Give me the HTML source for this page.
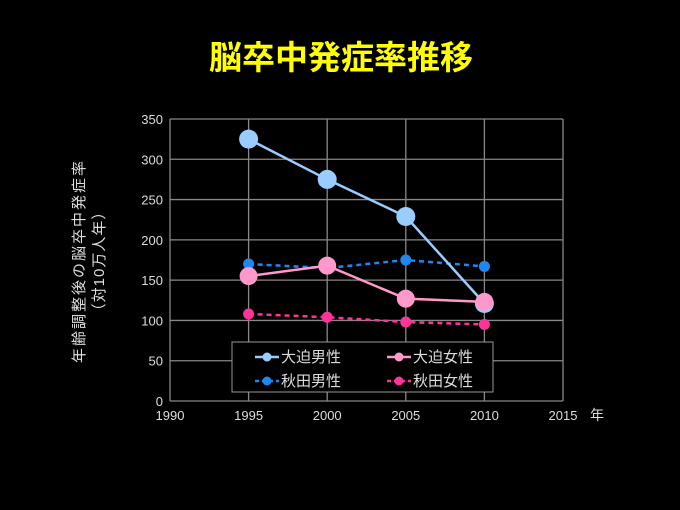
<!DOCTYPE html>
<html><head><meta charset="utf-8"><style>
body{margin:0;background:#000;width:680px;height:510px;overflow:hidden;font-family:"Liberation Sans","Noto Sans CJK JP",sans-serif}
</style></head><body>
<svg width="680" height="510" style="position:absolute;left:0;top:0">
<text x="341" y="69" text-anchor="middle" fill="#ffff00" font-size="33" font-weight="bold" font-family="Liberation Sans, Noto Sans CJK JP, sans-serif">脳卒中発症率推移</text>
<g id="grid"></g><g id="series"></g>
<text transform="translate(84,261) rotate(-90)" text-anchor="middle" fill="#ddd" font-size="15" letter-spacing="2">年齢調整後の脳卒中発症率</text>
<text transform="translate(104,261) rotate(-90)" text-anchor="middle" fill="#ddd" font-size="15" letter-spacing="1">（対10万人年）</text>
<text x="590" y="420" fill="#ddd" font-size="14">年</text>
<g>
<rect x="232" y="342" width="261" height="50" fill="#000" stroke="#999" stroke-width="1"/>
<g id="legend"></g>
</g>
</svg>
<script>
const years=[1995,2000,2005,2010];
const oosakoMale=[325,275,229,121];
const oosakoFemale=[155,168,127,123];
const akitaMale=[170,165,175,167];
const akitaFemale=[108,104,98,95];
const xTicks=[1990,1995,2000,2005,2010,2015];
const yTicks=[0,50,100,150,200,250,300,350];
const x0=170,x1=563,y0=401,y1=119;
const X=v=>x0+(v-1990)/(2015-1990)*(x1-x0);
const Y=v=>y0-v/350*(y0-y1);
const NS="http://www.w3.org/2000/svg";
function mk(t,a,p){const e=document.createElementNS(NS,t);for(const k in a)e.setAttribute(k,a[k]);p.appendChild(e);return e;}
const g=document.getElementById('grid');
yTicks.forEach(v=>{
 const l=mk('line',{x1:x0,x2:x1,y1:Y(v),y2:Y(v),stroke:'#888','stroke-width':1.3},g);
 
 
 const t=mk('text',{x:x0-7,y:Y(v)+5,'text-anchor':'end',fill:'#ddd','font-size':13},g);t.textContent=v;
 
 
});
xTicks.forEach(v=>{
 const l=mk('line',{x1:X(v),x2:X(v),y1:y1,y2:y0,stroke:'#888','stroke-width':1.3},g);
 
 
 const t=mk('text',{x:X(v),y:y0+19,'text-anchor':'middle',fill:'#ddd','font-size':13},g);t.textContent=v;
 
 
});
const s=document.getElementById('series');
function series(vals,color,dash,r,name){
 const grp=mk('g',{},s);
 
 
 mk('polyline',{points:vals.map((v,i)=>X(years[i])+','+Y(v)).join(' '),fill:'none',stroke:color,'stroke-width':2.5,'stroke-dasharray':dash?'5,4':'none'},grp);
 vals.forEach((v,i)=>{const c=mk('circle',{cx:X(years[i]),cy:Y(v),r:r,fill:color},grp);
  
  });
}
series(akitaFemale,'#ff3399',true,5.5,'akita-female-series');
series(akitaMale,'#1e88f0',true,5.5,'akita-male-series');
series(oosakoMale,'#99ccff',false,9.5,'oosako-male-series');
series(oosakoFemale,'#ff99cc',false,9,'oosako-female-series');
const lg=document.getElementById('legend');
const items=[['大迫男性','#99ccff',false,255,357],['大迫女性','#ff99cc',false,387,357],['秋田男性','#1e88f0',true,255,381],['秋田女性','#ff3399',true,387,381]];
items.forEach(([n,c,d,lx,ly])=>{
 const e=mk('g',{},lg);
 
 
 mk('line',{x1:lx,x2:lx+24,y1:ly,y2:ly,stroke:c,'stroke-width':2.5,'stroke-dasharray':d?'4,3':'none'},e);
 mk('circle',{cx:lx+12,cy:ly,r:4.5,fill:c},e);
 const t=mk('text',{x:lx+26,y:ly+5,fill:'#ddd','font-size':15},e);t.textContent=n;
});
</script>
</body></html>
